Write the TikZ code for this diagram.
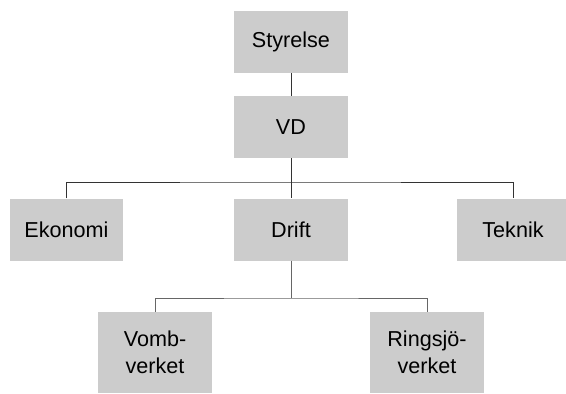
\documentclass[tikz,border=0pt]{standalone}
\usepackage{fontspec}
\setmainfont{Liberation Sans}
\begin{document}
\begin{tikzpicture}[x=1pt,y=-1pt,
  box/.style={fill=black!20, draw=none, minimum width=114pt, minimum height=62pt, inner sep=0pt, font=\fontsize{21.6}{27}\selectfont, align=center},
  tallbox/.style={box, minimum height=81pt},
  link/.style={draw=black!80, line width=0.9pt},
  sublink/.style={draw=black!60, line width=0.9pt}]
\useasboundingbox (0,0) rectangle (566,394);
\node[box] (sty) at (291,42) {Styrelse};
\node[box] (vd) at (291,127) {VD};
\node[box, minimum width=113pt] (eko) at (66.5,229.5) {Ekonomi};
\node[box] (dri) at (291,229.5) {Drift};
\node[box, minimum width=113pt] (tek) at (513,229.5) {Teknik};
\node[tallbox] (vom) at (155,352.5) {Vomb-\\verket};
\node[tallbox] (rin) at (427,352.5) {Ringsjö-\\verket};
\coordinate (j1) at (291,182);
\coordinate (j2) at (291,298);
\draw[link] (sty.south) -- (vd.north);
\draw[link] (vd.south) -- (dri.north);
\draw[link] (eko.north) |- (j1) -| (tek.north);
\draw[sublink] (dri.south) -- (j2);
\draw[sublink] (vom.north) |- (j2) -| (rin.north);
\end{tikzpicture}
\end{document}
